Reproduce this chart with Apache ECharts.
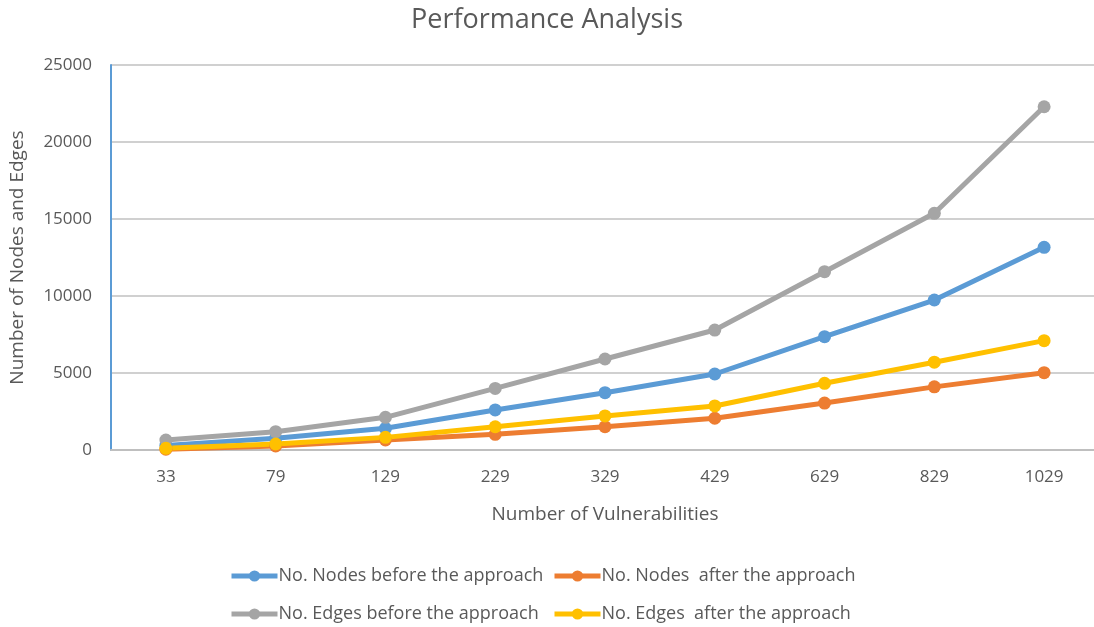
<!DOCTYPE html>
<html>
<head>
<meta charset="utf-8">
<script src="https://cdn.jsdelivr.net/npm/echarts@6/dist/echarts.min.js"></script>
<style>
  html, body { margin: 0; padding: 0; background: #fff; }
  #chart { width: 1094px; height: 627px; }
</style>
</head>
<body>
<div id="chart"></div>
<script>
// Number of vulnerabilities on the x axis
const vulnerabilities = ['33', '79', '129', '229', '329', '429', '629', '829', '1029'];

// Graph sizes before and after the reduction approach
const nodesBefore = [300, 760, 1410, 2600, 3720, 4935, 7360, 9740, 13160];
const nodesAfter  = [50, 260, 650, 1020, 1510, 2060, 3050, 4100, 5020];
const edgesBefore = [650, 1190, 2120, 4000, 5910, 7790, 11580, 15370, 22290];
const edgesAfter  = [110, 390, 820, 1510, 2210, 2860, 4330, 5700, 7100];

const seriesNames = [
  'No. Nodes before the approach',
  'No. Nodes  after the approach',
  'No. Edges before the approach',
  'No. Edges  after the approach'
];
const seriesData = [nodesBefore, nodesAfter, edgesBefore, edgesAfter];
const colors = ['#5b9bd5', '#ed7d31', '#a5a5a5', '#ffc000'];

const FONT = '"Open Sans", "Noto Sans", sans-serif';
const TEXT = '#595959';

// legend entries laid out as a 2x2 block
const legendPos = [
  { left: 224, top: 562 },
  { left: 547, top: 562 },
  { left: 224, top: 600 },
  { left: 547, top: 600 }
];

const chart = echarts.init(document.getElementById('chart'), null, { renderer: 'canvas' });

chart.setOption({
  animation: false,
  backgroundColor: '#fff',
  color: colors,
  title: {
    text: 'Performance Analysis',
    left: 'center',
    top: 2,
    textStyle: { fontFamily: FONT, fontSize: 27, fontWeight: 'normal', color: TEXT }
  },
  legend: seriesNames.map((name, i) => ({
    data: [name],
    left: legendPos[i].left,
    top: legendPos[i].top,
    itemWidth: 46,
    itemHeight: 14,
    itemGap: 0,
    lineStyle: { width: 5 },
    textStyle: { fontFamily: FONT, fontSize: 18, color: TEXT, padding: [0, 0, 0, -4] }
  })),
  grid: { left: 111, right: -5, top: 65, bottom: 177, outerBoundsMode: 'none' },
  xAxis: {
    type: 'category',
    data: vulnerabilities,
    boundaryGap: true,
    name: 'Number of Vulnerabilities',
    nameLocation: 'middle',
    nameGap: 55,
    nameTextStyle: { fontFamily: FONT, fontSize: 19, color: TEXT },
    axisLine: { lineStyle: { color: '#bfbfbf', width: 2 } },
    axisTick: { show: false },
    axisLabel: { fontFamily: FONT, fontSize: 17, color: TEXT, margin: 19 }
  },
  yAxis: {
    type: 'value',
    min: 0,
    max: 25000,
    interval: 5000,
    name: 'Number of Nodes and Edges',
    nameLocation: 'middle',
    nameGap: 84,
    nameTextStyle: { fontFamily: FONT, fontSize: 19, color: TEXT },
    axisLine: { show: true, lineStyle: { color: '#5b9bd5', width: 2 } },
    axisTick: { show: false },
    axisLabel: { fontFamily: FONT, fontSize: 17, color: TEXT, margin: 19, formatter: v => String(v) },
    splitLine: { lineStyle: { color: '#d0d0d0', width: 2 } }
  },
  series: seriesNames.map((name, i) => ({
    name: name,
    type: 'line',
    data: seriesData[i],
    symbol: 'circle',
    symbolSize: 13,
    lineStyle: { width: 5, color: colors[i] },
    itemStyle: { color: colors[i] },
    emphasis: { disabled: true }
  }))
});
</script>
</body>
</html>
